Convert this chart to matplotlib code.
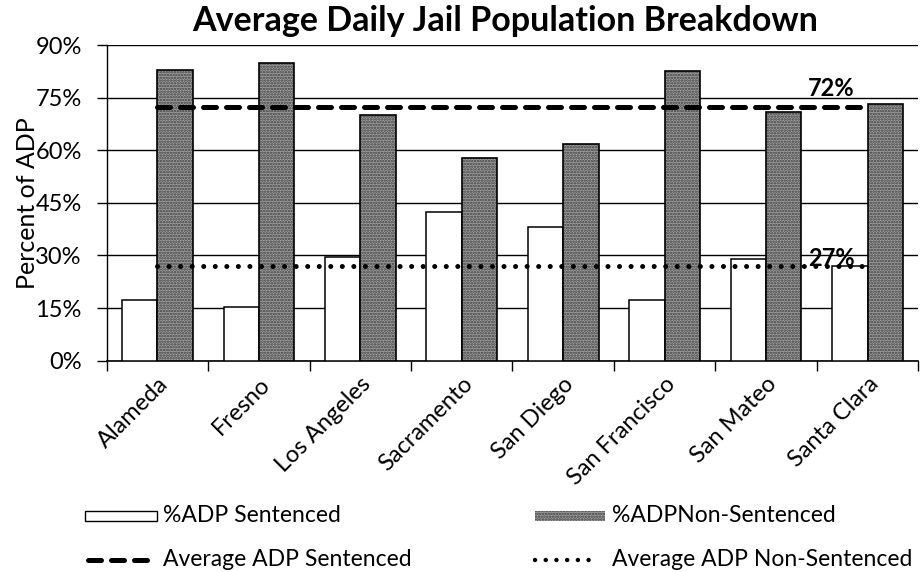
import matplotlib
matplotlib.use("Agg")
import matplotlib.pyplot as plt
from matplotlib.patches import Rectangle
from matplotlib.lines import Line2D
import numpy as np

# ---- data -------------------------------------------------------------
counties = ["Alameda", "Fresno", "Los Angeles", "Sacramento",
            "San Diego", "San Francisco", "San Mateo", "Santa Clara"]
pct_sentenced = [17.4, 15.3, 29.6, 42.5, 38.2, 17.2, 29.1, 27.0]
pct_non_sentenced = [82.9, 85.0, 70.0, 57.7, 61.9, 82.6, 70.9, 73.2]
avg_sentenced_line = 72.4       # dashed reference line
avg_non_sentenced_line = 27.0   # dotted reference line
y_ticks = [0, 15, 30, 45, 60, 75, 90]
y_tick_labels = ["0%", "15%", "30%", "45%", "60%", "75%", "90%"]

FONT = "Lato"
plt.rcParams["font.family"] = [FONT, "DejaVu Sans"]
TICK_FS = 17
LEG_FS = 16.5
GREY = "#a0a0a0"
STIPPLE = "#3c3c3c"

fig = plt.figure(figsize=(9.24, 5.72), dpi=100)
ax = fig.add_axes([0.1155, 0.3694, 0.9938 - 0.1155, 0.9213 - 0.3694])

x = np.arange(len(counties))
w = 0.348

# white bars
ax.bar(x - w / 2, pct_sentenced, width=w, facecolor="white",
       edgecolor="black", linewidth=1.1, zorder=3)

# grey stippled bars: textured fill, then outline
plt.rcParams["hatch.linewidth"] = 1.2
ax.bar(x + w / 2, pct_non_sentenced, width=w, facecolor=GREY,
       edgecolor=STIPPLE, hatch="......", linewidth=0, zorder=3)
ax.bar(x + w / 2, pct_non_sentenced, width=w, fill=False,
       edgecolor="black", linewidth=1.2, zorder=4)

# average lines through the category centres
dash_line, = ax.plot([x[0], x[-1]], [avg_sentenced_line] * 2, color="black",
                     linewidth=3.6, dash_capstyle="round", zorder=5)
dash_line.set_dashes((2.6, 2.0))
dot_line, = ax.plot([x[0], x[-1]], [avg_non_sentenced_line] * 2,
                    color="black", linewidth=3.6, dash_capstyle="round",
                    zorder=5)
dot_line.set_dashes((0.01, 2.3))

ax.text(x[-1] - 0.36, avg_sentenced_line + 1.8, f"{avg_sentenced_line:.0f}%",
        ha="center", va="bottom", fontsize=TICK_FS, fontweight="bold", zorder=6)
ax.text(x[-1] - 0.36, avg_non_sentenced_line - 1.2,
        f"{avg_non_sentenced_line:.0f}%",
        ha="center", va="bottom", fontsize=TICK_FS, fontweight="bold", zorder=6)

# axes styling
ax.set_xlim(-0.5, len(counties) - 0.5)
ax.set_ylim(0, 90)
ax.set_yticks(y_ticks)
ax.set_yticklabels(y_tick_labels, fontsize=TICK_FS)
ax.yaxis.grid(True, color="black", linewidth=1.0, zorder=0)
ax.set_axisbelow(True)
ax.tick_params(axis="y", length=7, width=1.0, color="black", pad=11)

ax.set_xticks(x)
ax.set_xticklabels(counties, rotation=45, ha="right", va="top",
                   rotation_mode="anchor", fontsize=TICK_FS)
ax.tick_params(axis="x", which="major", length=0, pad=9)
ax.set_xticks(np.arange(-0.5, len(counties)), minor=True)
ax.tick_params(axis="x", which="minor", length=7, width=1.0)

for side in ("top", "right"):
    ax.spines[side].set_visible(False)
ax.spines["left"].set_linewidth(1.0)
ax.spines["bottom"].set_linewidth(1.2)

ax.set_ylabel("Percent of ADP", fontsize=18, labelpad=-3)

fig.text(505 / 924, 1 - 31 / 572, "Average Daily Jail Population Breakdown",
         ha="center", va="baseline", fontsize=24.5, fontweight="bold")

# ---- legend (two rows, two columns, below the axis labels) ------------
W, H = 924, 572


def fx(px):
    return px / W


def fy(py):
    return 1 - py / H


row1, row2 = 516, 560
fig.add_artist(Rectangle((fx(85), fy(521)), fx(157) - fx(85), fy(511) - fy(521),
                         facecolor="white", edgecolor="black", linewidth=1.0,
                         transform=fig.transFigure))
fig.text(fx(163), fy(row1), "%ADP Sentenced", ha="left", va="center",
         fontsize=LEG_FS)

fig.add_artist(Rectangle((fx(535), fy(521)), fx(605) - fx(535), fy(511) - fy(521),
                         facecolor=GREY, edgecolor=STIPPLE,
                         hatch="......", linewidth=0.0,
                         transform=fig.transFigure))
fig.text(fx(612), fy(row1), "%ADPNon-Sentenced", ha="left", va="center",
         fontsize=LEG_FS)

leg_dash = Line2D([fx(88), fx(152)], [fy(row2), fy(row2)], color="black",
                  linewidth=3.6, dash_capstyle="round",
                  transform=fig.transFigure)
leg_dash.set_dashes((2.6, 2.0))
fig.add_artist(leg_dash)
fig.text(fx(163), fy(row2), "Average ADP Sentenced", ha="left", va="center",
         fontsize=LEG_FS)

leg_dot = Line2D([fx(535), fx(597)], [fy(row2), fy(row2)], color="black",
                 linewidth=3.2, dash_capstyle="round",
                 transform=fig.transFigure)
leg_dot.set_dashes((0.01, 2.4))
fig.add_artist(leg_dot)
fig.text(fx(612), fy(row2), "Average ADP Non-Sentenced", ha="left",
         va="center", fontsize=LEG_FS)

fig.savefig("out.png", dpi=100)
